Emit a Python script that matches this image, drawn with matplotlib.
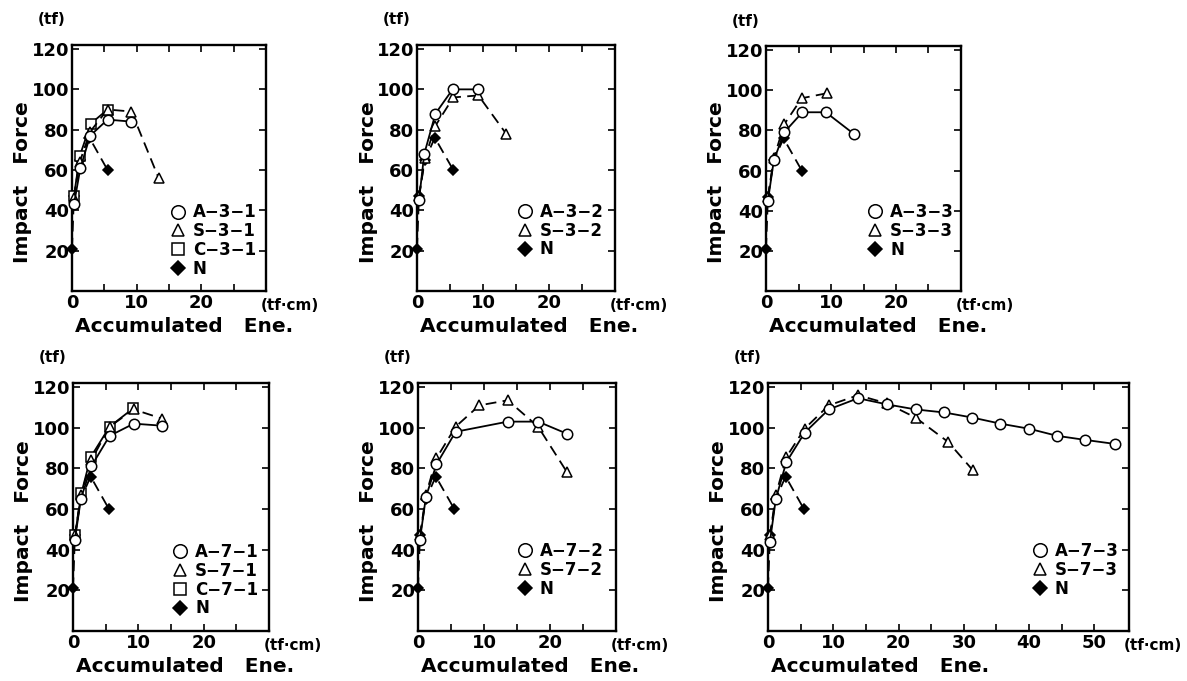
import matplotlib
matplotlib.use('Agg')
import matplotlib.pyplot as plt
import matplotlib.transforms as mtransforms
from matplotlib.lines import Line2D

plt.rcParams['font.family'] = ['DejaVu Sans']
plt.rcParams['font.weight'] = 'bold'

W, H = 1187, 681

# reference N series (same in every panel)
n_x = [0.0, 0.3, 1.2, 2.7, 5.5]
n_y = [21, 47, 65, 76, 60]

# panel 1
a31_x = [0.3, 1.3, 2.8, 5.5, 9.2]
a31_y = [43, 61, 77, 85, 84]
s31_x = [0.3, 1.2, 2.8, 5.5, 9.2, 13.4]
s31_y = [46, 64, 79, 90, 89, 56]
c31_x = [0.3, 1.2, 2.9, 5.5]
c31_y = [47, 67, 83, 90]

# panel 2
a32_x = [0.3, 1.1, 2.8, 5.4, 9.2]
a32_y = [45, 68, 88, 100, 100]
s32_x = [0.3, 1.2, 2.8, 5.5, 9.3, 13.5]
s32_y = [47, 66, 82, 96, 97, 78]

# panel 3
a33_x = [0.3, 1.2, 2.8, 5.6, 9.2, 13.6]
a33_y = [45, 65, 79, 89, 89, 78]
s33_x = [0.3, 1.2, 2.8, 5.5, 9.4]
s33_y = [47, 66, 83, 96, 98.5]

# panel 4
a71_x = [0.3, 1.2, 2.8, 5.6, 9.3, 13.6]
a71_y = [45, 65, 81, 96, 102, 101]
s71_x = [0.3, 1.2, 2.8, 5.6, 9.3, 13.6]
s71_y = [47, 67, 84, 100.5, 109, 104.5]
c71_x = [0.3, 1.3, 2.7, 5.6, 9.2]
c71_y = [47, 68, 85.5, 100.5, 109.5]

# panel 5
a72_x = [0.3, 1.2, 2.8, 5.7, 13.6, 18.2, 22.6]
a72_y = [45, 66, 82, 98, 103, 103, 97]
s72_x = [0.3, 1.2, 2.8, 5.7, 9.3, 13.6, 18.2, 22.6]
s72_y = [47, 67, 85, 100.5, 111, 113.5, 100.5, 78]

# panel 6
a73_x = [0.3, 1.2, 2.8, 5.6, 9.3, 13.8, 18.2, 22.6, 27.0, 31.3, 35.6, 40.0, 44.3, 48.6, 53.2]
a73_y = [44, 65, 83, 97.5, 109, 114.5, 111.5, 109, 107.5, 105, 102, 99.5, 96, 94, 92]
s73_x = [0.3, 1.2, 2.8, 5.6, 9.3, 13.8, 18.2, 22.6, 27.6, 31.4]
s73_y = [47, 67, 85.5, 99.5, 111, 116, 112, 105, 93, 79]

dash = (0, (6, 3.5))
styles = {
    'A': dict(marker='o', ls='-', mfc='white', ms=7.5),
    'S': dict(marker='^', ls=dash, mfc='white', ms=7),
    'C': dict(marker='s', ls='-', mfc='white', ms=7),
    'N': dict(marker='D', ls=dash, mfc='black', ms=5.5),
}

# (left, top, right, bottom) in pixels, x max, legend marker x (axes fraction)
panels = [
    ((72, 45, 266, 291), 30, 0.546,
     [('A−3−1', a31_x, a31_y, 'A'), ('S−3−1', s31_x, s31_y, 'S'),
      ('C−3−1', c31_x, c31_y, 'C'), ('N', n_x, n_y, 'N')]),
    ((417, 45, 615, 291), 30, 0.545,
     [('A−3−2', a32_x, a32_y, 'A'), ('S−3−2', s32_x, s32_y, 'S'), ('N', n_x, n_y, 'N')]),
    ((766, 46, 961, 291), 30, 0.559,
     [('A−3−3', a33_x, a33_y, 'A'), ('S−3−3', s33_x, s33_y, 'S'), ('N', n_x, n_y, 'N')]),
    ((73, 383, 269, 631), 30, 0.546,
     [('A−7−1', a71_x, a71_y, 'A'), ('S−7−1', s71_x, s71_y, 'S'),
      ('C−7−1', c71_x, c71_y, 'C'), ('N', n_x, n_y, 'N')]),
    ((418, 383, 616, 631), 30, 0.54,
     [('A−7−2', a72_x, a72_y, 'A'), ('S−7−2', s72_x, s72_y, 'S'), ('N', n_x, n_y, 'N')]),
    ((768, 383, 1129, 631), 55.3, 0.753,
     [('A−7−3', a73_x, a73_y, 'A'), ('S−7−3', s73_x, s73_y, 'S'), ('N', n_x, n_y, 'N')]),
]

fig = plt.figure(figsize=(W / 100, H / 100), dpi=100)

for (l, t, r, b), xmax, leg_x, series in panels:
    ax = fig.add_axes([l / W, 1 - b / H, (r - l) / W, (b - t) / H])
    ax.set_xlim(0, xmax)
    ax.set_ylim(0, 122)

    # draw N first so open markers sit on top
    for label, xs, ys, kind in reversed(series):
        st = styles[kind]
        ax.plot(xs, ys, color='black', lw=1.3, ls=st['ls'], marker=st['marker'],
                ms=st['ms'], mfc=st['mfc'], mec='black', mew=1.1, clip_on=False,
                zorder=3)

    xt = list(range(0, int(xmax) + 1, 5))
    if xt[-1] >= xmax - 0.5:
        xt = xt[:-1]
    ax.set_xticks(xt, [str(v) if v % 10 == 0 else '' for v in xt])
    ax.set_yticks([20, 40, 60, 80, 100, 120], ['20', '40', '60', '80', '100', '120'])
    ax.tick_params(direction='in', length=5, width=1.2, top=True, right=True,
                   labelsize=13, pad=2)
    for sp in ax.spines.values():
        sp.set_linewidth(1.7)

    ax.annotate('Impact   Force', xy=(0, 0.5), xycoords='axes fraction',
                xytext=(-49, -14), textcoords='offset pixels', rotation=90,
                ha='center', va='center', fontsize=14.5, fontweight='bold')
    ax.annotate('Accumulated   Ene.', xy=(0, 0), xycoords='axes fraction',
                xytext=(3, -36), textcoords='offset pixels',
                ha='left', va='center', fontsize=14.5, fontweight='bold')
    ax.annotate('(tf)', xy=(0, 1), xycoords='axes fraction',
                xytext=(-20, 25), textcoords='offset pixels',
                ha='center', va='center', fontsize=11, fontweight='bold')
    ax.annotate('(tf·cm)', xy=(1, 0), xycoords='axes fraction',
                xytext=(-5, -15), textcoords='offset pixels',
                ha='left', va='center', fontsize=11, fontweight='bold')

    handles = []
    labels = []
    for label, xs, ys, kind in series:
        st = styles[kind]
        handles.append(Line2D([], [], ls='none', marker=st['marker'], ms=st['ms'],
                              mfc=st['mfc'], mec='black', mew=1.1, color='black'))
        labels.append(label)
    trans = mtransforms.blended_transform_factory(ax.transAxes, ax.transData)
    ycen = 40 - 10 * (len(series) - 1) / 2
    ax.legend(handles, labels, loc='center left',
              bbox_to_anchor=(leg_x - 10 / (r - l), ycen), bbox_transform=trans,
              frameon=False, fontsize=12, borderpad=0, borderaxespad=0,
              handlelength=1.2, handletextpad=0.3, labelspacing=0.05,
              markerscale=1.3)

fig.savefig('out.png', dpi=100, facecolor='white')
